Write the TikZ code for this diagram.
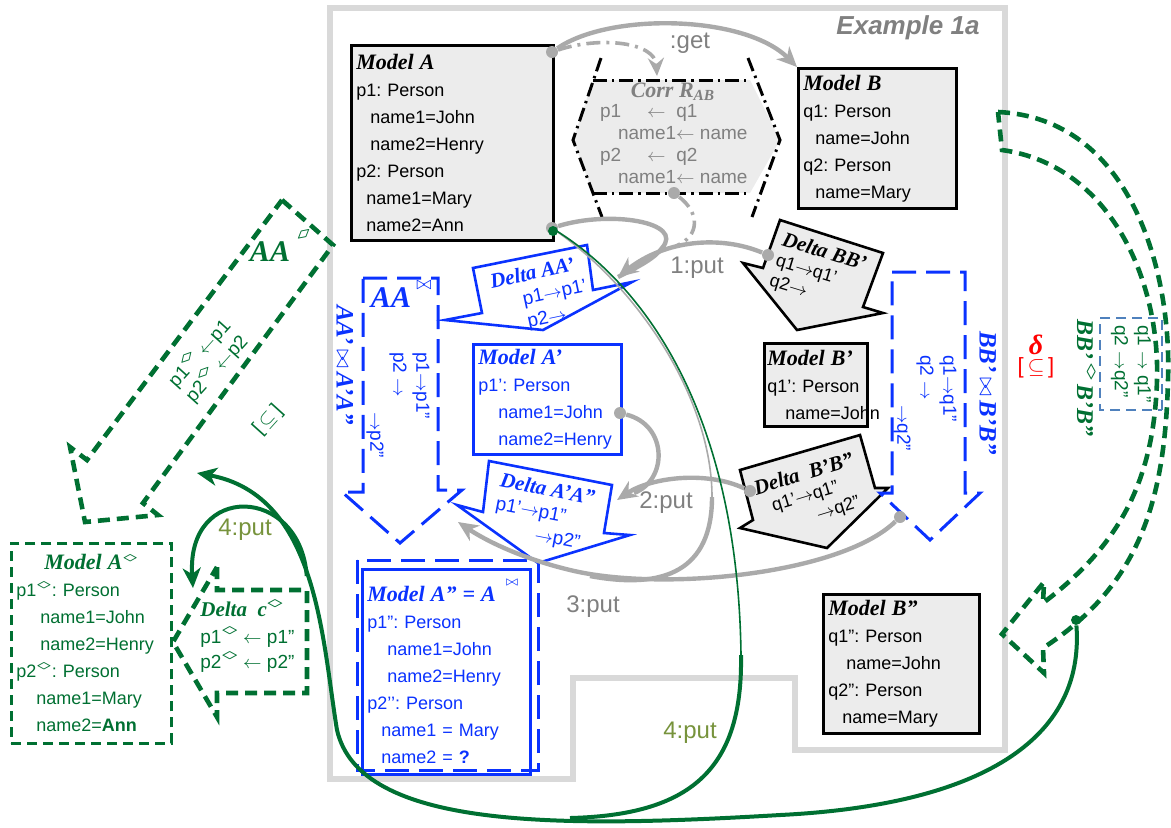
\documentclass[tikz,border=0pt]{standalone}
\usepackage{fontspec}
\setmainfont{Liberation Sans}
\newfontfamily\tnr{Liberation Serif}
\usepackage{amsmath, amssymb}
\usepackage{graphicx}
\usetikzlibrary{arrows.meta, positioning, calc}

\definecolor{boxgray}{RGB}{236,236,236}
\definecolor{linegray}{RGB}{170,170,170}
\definecolor{framegray}{RGB}{217,217,217}
\definecolor{txtgray}{RGB}{128,128,128}
\definecolor{myblue}{RGB}{10,50,255}
\definecolor{mygreen}{RGB}{0,112,50}
\definecolor{olive}{RGB}{119,147,60}
\definecolor{steel}{RGB}{79,129,189}

\frenchspacing
\newcommand{\bodyf}{\fontsize{9}{13.5}\selectfont}
\newcommand{\smallf}{\fontsize{9.5}{11.5}\selectfont}
\newcommand{\ttlf}{\tnr\bfseries\itshape\fontsize{11}{13.5}\selectfont}
\newcommand{\dttl}{\tnr\bfseries\itshape\fontsize{10.5}{12}\selectfont}
\newcommand{\bigttl}{\tnr\bfseries\itshape\fontsize{12.5}{15}\selectfont}
\newcommand{\lblf}{\fontsize{12}{14}\selectfont}
\newcommand{\dmd}{\raisebox{0.9ex}{\scalebox{2}[1.1]{$\scriptstyle\diamond$}}}
\newcommand{\ra}{\ensuremath{\rightarrow}}
\newcommand{\la}{\ensuremath{\leftarrow}}

\begin{document}
\begin{tikzpicture}[x=0.5pt, y=-0.5pt,
  modelbox/.style={draw=black, line width=1.4pt, fill=boxgray, anchor=north west,
    align=left, inner xsep=2.5pt, inner ysep=1pt, font=\bodyf},
  bluebox/.style={modelbox, draw=myblue, fill=white, text=myblue},
  greenbox/.style={modelbox, draw=mygreen, fill=white, text=mygreen, dash pattern=on 5pt off 3pt},
  deltablue/.style={draw=myblue, line width=1.3pt, fill=white},
  deltagray/.style={draw=black, line width=1.3pt, fill=boxgray},
  deltatext/.style={font=\smallf, align=left, inner sep=0pt},
  bluedash/.style={draw=myblue, line width=1.5pt, dash pattern=on 12pt off 5pt},
  greendash/.style={draw=mygreen, line width=2.3pt, dash pattern=on 6pt off 3.5pt},
  corrline/.style={draw=black, line width=1.5pt, dash pattern=on 7pt off 2.5pt on 1.2pt off 2.5pt},
  putline/.style={draw=linegray, line width=2.2pt},
  putarrow/.style={putline, -{Stealth[length=10pt, width=9pt, inset=3pt]}},
  greenline/.style={draw=mygreen, line width=2pt},
  greenarrow/.style={greenline, -{Stealth[length=10pt, width=9pt, inset=3pt]}},
  dotgray/.style={circle, fill=linegray, inner sep=0pt, minimum size=6pt},
  dotgreen/.style={circle, fill=mygreen, inner sep=0pt, minimum size=5pt},
  putlabel/.style={font=\lblf, text=txtgray},
  greenlabel/.style={font=\lblf, text=olive}]

\useasboundingbox (0,0) rectangle (1171,827);

% frame of the example
\draw[framegray, line width=3pt] (330,8) -- (1005,8) -- (1005,750) -- (795,750) -- (795,678)
  -- (573,678) -- (573,779) -- (330,779) -- cycle;
\node[font=\bfseries\itshape\fontsize{13}{15}\selectfont, text=txtgray] (ttl) at (908,28) {Example 1a};

% correspondence
\fill[boxgray] (593,80) -- (750,80) -- (780,140) -- (750,193) -- (593,193) -- (573,140) -- cycle;
\draw[corrline] (593,80) -- (750,80);
\draw[corrline] (593,193) -- (750,193);
\draw[corrline] (601,58) -- (573,140) -- (602,217);
\draw[corrline] (748,58) -- (780,140) -- (752,217);
\node[font=\ttlf, text=txtgray] (corrT) at (673,92) {Corr R\textsubscript{AB}};
\node[font=\fontsize{9.5}{11}\selectfont, text=txtgray, align=left, anchor=west] (corrB) at (593,144)
  {p1\hspace{13pt}\la\ \ q1\\ \hspace*{9pt}name1\la\ name\\ p2\hspace{13pt}\la\ \ q2\\ \hspace*{9pt}name1\la\ name};

% models A, B
\node[modelbox, text width=96pt, minimum height=97.5pt] (mA) at (350,44)
  {{\ttlf Model A}\\ p1: Person\\ \hspace*{7pt}name1=John\\ \hspace*{7pt}name2=Henry\\
   p2: Person\\ \hspace*{5pt}name1=Mary\\ \hspace*{5pt}name2=Ann};
\node[modelbox, text width=74pt, minimum height=70pt] (mB) at (797,67)
  {{\ttlf Model B}\\ q1: Person\\ \hspace*{6pt}name=John\\ q2: Person\\ \hspace*{6pt}name=Mary};
\node[modelbox, inner xsep=1.5pt, text width=48.5pt, minimum height=41.5pt] (mB1) at (763,342)
  {{\ttlf Model B’}\\ q1': Person\\ \hspace*{9pt}name=John};
\node[modelbox, text width=73pt, minimum height=69.5pt] (mB2) at (822,593)
  {{\ttlf Model B”}\\ q1": Person\\ \hspace*{9pt}name=John\\ q2": Person\\ \hspace*{7pt}name=Mary};
\node[bluebox, text width=69pt, minimum height=55pt] (mA1) at (472,343)
  {{\ttlf Model A’}\\ p1': Person\\ \hspace*{10pt}name1=John\\ \hspace*{10pt}name2=Henry};
\node[bluebox, text width=79pt, minimum height=102.5pt] (mA2) at (361,568)
  {{\ttlf Model A” = A}\hspace{5pt}\raisebox{8pt}{$\scriptstyle\bowtie$}\\ p1": Person\\
   \hspace*{10pt}name1=John\\ \hspace*{10pt}name2=Henry\\ p2’’: Person\\
   \hspace*{7pt}name1 = Mary\\ \hspace*{7pt}name2 = \textbf{?}};
\draw[bluedash] (357,560) rectangle (538,770);

% deltas on the A side
\draw[deltablue] (473,268) -- (587,245) -- (593,290) -- (632,282) -- (543,330) -- (445,320) -- (482,313) -- cycle;
\node[deltatext, text=myblue, rotate=12] (dAA) at (541,296)
  {{\dttl Delta AA’}\\ \hspace*{14pt}p1\ra p1’\\ \hspace*{14pt}p2\ra};
\draw[deltablue] (489,461) -- (612,485) -- (604,533) -- (630,535) -- (538,563) -- (457,505) -- (483,512) -- cycle;
\node[deltatext, text=myblue, rotate=-11] (dAA2) at (543,513)
  {{\dttl Delta A’A”}\\ p1’\ra p1”\\ \hspace*{22pt}\ra p2”};

% deltas on the B side
\draw[deltagray] (780,220) -- (883,253) -- (863,307) -- (883,313) -- (797,330) -- (743,263) -- (763,268) -- cycle;
\node[deltatext, font=\fontsize{9}{10.5}\selectfont, rotate=-17] (dBB) at (818,273)
  {{\dttl Delta BB’}\\ q1\ra q1’\\ q2\ra};
\draw[deltagray] (740,470) -- (860,435) -- (875,488) -- (888,488) -- (827,548) -- (740,528) -- (753,520) -- cycle;
\node[deltatext, font=\fontsize{9}{10.5}\selectfont, rotate=17] (dBB2) at (810,495)
  {{\dttl Delta\ \ B’B”}\\ \hspace*{6pt}q1’\ra q1”\\ \hspace*{26pt}\ra q2”};

% composed deltas
\draw[bluedash] (363,278) -- (438,278) -- (438,490) -- (462,490) -- (400,543) -- (342,492) -- (363,492) -- cycle;
\node[font=\tnr\bfseries\itshape\fontsize{15}{17}\selectfont, text=myblue] (aaJ) at (391,298) {AA};
\node[text=myblue, font=\smallf] (aaJs) at (424,285) {$\bowtie$};
\node[deltatext, text=myblue, rotate=-90] (aaJt) at (398,405) {p1\ra p1”\\ p2 \ra\\ \hspace*{30pt}\ra p2”};
\node[font=\bigttl, text=myblue, rotate=-90] (aaJl) at (345,365) {AA’\,$\bowtie$\,A’A”};
\draw[bluedash] (892,272) -- (965,272) -- (965,493) -- (980,493) -- (930,540) -- (880,493) -- (892,493) -- cycle;
\node[deltatext, text=myblue, rotate=-90] (bbJt) at (925,403) {q1\ra q1”\\ q2 \ra\\ \hspace*{25pt}\ra q2”};
\node[font=\bigttl, text=myblue, rotate=-90] (bbJl) at (988,393) {BB’\,$\bowtie$\,B’B”};

% right: amendment of B side
\draw[greendash] (998,112) .. controls (1130,118) and (1172,270) .. (1168,380)
  .. controls (1165,500) and (1140,585) .. (1043,648) -- (1044,673) -- (1002,634) -- (1044,582)
  -- (1043,603) .. controls (1120,545) and (1154,480) .. (1157,380)
  .. controls (1160,280) and (1110,165) .. (1002,150) -- cycle;
\node[draw=steel, line width=1.3pt, dash pattern=on 5pt off 3pt, rotate=-90,
  deltatext, text=mygreen, minimum width=46pt, minimum height=31pt] (qbox) at (1131,364)
  {q1 \ra\ q1”\\ q2 \ra q2”};
\node[font=\bigttl\fontsize{12}{14}\selectfont, text=mygreen, rotate=-90] (bbD) at (1086,378) {BB’\,\dmd\,B’B”};
\node[font=\tnr\bfseries\itshape\fontsize{14}{16}\selectfont, text=red] (dlt) at (1036,345) {δ};
\node[font=\fontsize{11}{13}\selectfont, text=red] (dsub) at (1036,368) {[\,$\subseteq$\,]};

% left: amendment of A side
\draw[greendash] (282,200) -- (333,245) -- (143,503) -- (158,515) -- (85,522) -- (70,447) -- (87,460) -- cycle;
\node[font=\tnr\bfseries\itshape\fontsize{15}{17}\selectfont, text=mygreen] (aaD) at (270,252) {AA};
\node[text=mygreen, rotate=40] (aaDs) at (307,238) {\dmd};
\node[deltatext, text=mygreen, rotate=48] (aaDt) at (208,361) {p1\dmd\ \la p1\\ p2\dmd\ \la p2};
\node[font=\fontsize{10}{12}\selectfont, text=mygreen, rotate=48] (aaDu) at (268,420) {[\,$\subseteq$\,]};
\node[greenbox, text width=75pt, minimum height=100pt] (mAd) at (10,542)
  {\hspace*{14pt}{\ttlf Model A}\dmd\\ p1\dmd: Person\\ \hspace*{12pt}name1=John\\ \hspace*{12pt}name2=Henry\\
   p2\dmd: Person\\ \hspace*{10pt}name1=Mary\\ \hspace*{10pt}name2=\textbf{Ann}};
\draw[greendash] (217,567) -- (217,590) -- (307,590) -- (307,693) -- (217,693) -- (217,717) -- (173,642) -- cycle;
\node[deltatext, text=mygreen, anchor=north west] (dc) at (200,600)
  {{\dttl Delta\ \ c}\dmd\\[2pt] p1\dmd\ \la\ p1”\\[1pt] p2\dmd\ \la\ p2”};

% end points of the connectors
\coordinate (getC) at (657,76);
\coordinate (put1E) at (618,277);
\coordinate (put1M) at (662,248);
\coordinate (put2E) at (617,500);
\coordinate (put2M) at (634,493);
\coordinate (put3E) at (458,522);
\coordinate (put3M) at (590,576);
\coordinate (gthin) at (712,497);
\coordinate (gthick) at (741,655);
\coordinate (gjoin) at (570,818);
\coordinate (put4A) at (197,473);
\coordinate (put4B) at (193,588);
\coordinate (corrJ) at (676,246);

% dots
\node[dotgray] (dA0) at (552,52) {};
\node[dotgray] (dA2) at (552,228) {};
\node[dotgray] (dCorr) at (674,193) {};
\node[dotgray] (dBB1) at (768,255) {};
\node[dotgray] (dA1) at (620,413) {};
\node[dotgray] (dBB2) at (750,491) {};
\node[dotgray] (dBBj) at (900,517) {};

% get
\draw[putarrow] (dA0) .. controls (610,12) and (745,15) .. (mB.north west);
\draw[putline, line width=1.8pt, dash pattern=on 7pt off 3pt on 1.5pt off 3pt, -{Stealth[length=9pt, width=8pt, inset=3pt]}]
  (dA0) .. controls (600,36) and (655,42) .. (getC);
\node[putlabel] (getL) at (690,43) {:get};

% 1:put
\draw[putline] (dA2) .. controls (610,210) and (685,222) .. (put1M) .. controls (655,258) and (640,266) .. (put1E);
\draw[putarrow] (dBB1) .. controls (720,235) and (665,240) .. (put1E);
\draw[putline, line width=1.8pt, dash pattern=on 7pt off 3pt on 1.5pt off 3pt] (dCorr) .. controls (700,213) and (700,236) .. (corrJ);
\node[putlabel] (put1L) at (697,268) {1:put};

% 2:put
\draw[putline] (dA1) .. controls (668,425) and (668,480) .. (put2M);
\draw[putarrow] (dBB2) .. controls (705,470) and (650,478) .. (put2E);
\node[putlabel] (put2L) at (666,503) {2:put};

% 3:put
\draw[linegray, line width=0.8pt] (dA2) .. controls (640,290) and (712,400) .. (gthin);
\draw[putline] (gthin) .. controls (712,570) and (665,590) .. (put3M);
\draw[putarrow] (dBBj) .. controls (840,575) and (660,592) .. (570,570) .. controls (520,558) and (485,540) .. (put3E);
\node[putlabel] (put3L) at (593,607) {3:put};

% 4:put
\draw[mygreen, line width=0.8pt] (dA2) .. controls (650,290) and (738,420) .. (gthick);
\draw[greenline] (gthick) .. controls (743,770) and (690,815) .. (gjoin);
\node[dotgreen] (dBq) at (1076,620) {};
\node[dotgreen] (dAg) at (553,231) {};
\draw[greenarrow] (dBq) .. controls (1085,740) and (980,805) .. (780,815)
  .. controls (560,828) and (360,830) .. (337,730)
  .. controls (322,640) and (318,495) .. (put4A) coordinate[pos=0.5] (g4b);
\draw[greenarrow] (g4b) .. controls (300,485) and (186,482) .. (put4B);
\node[greenlabel] (put4L) at (245,530) {4:put};
\node[greenlabel] (put4M) at (690,733) {4:put};

\end{tikzpicture}
\end{document}
